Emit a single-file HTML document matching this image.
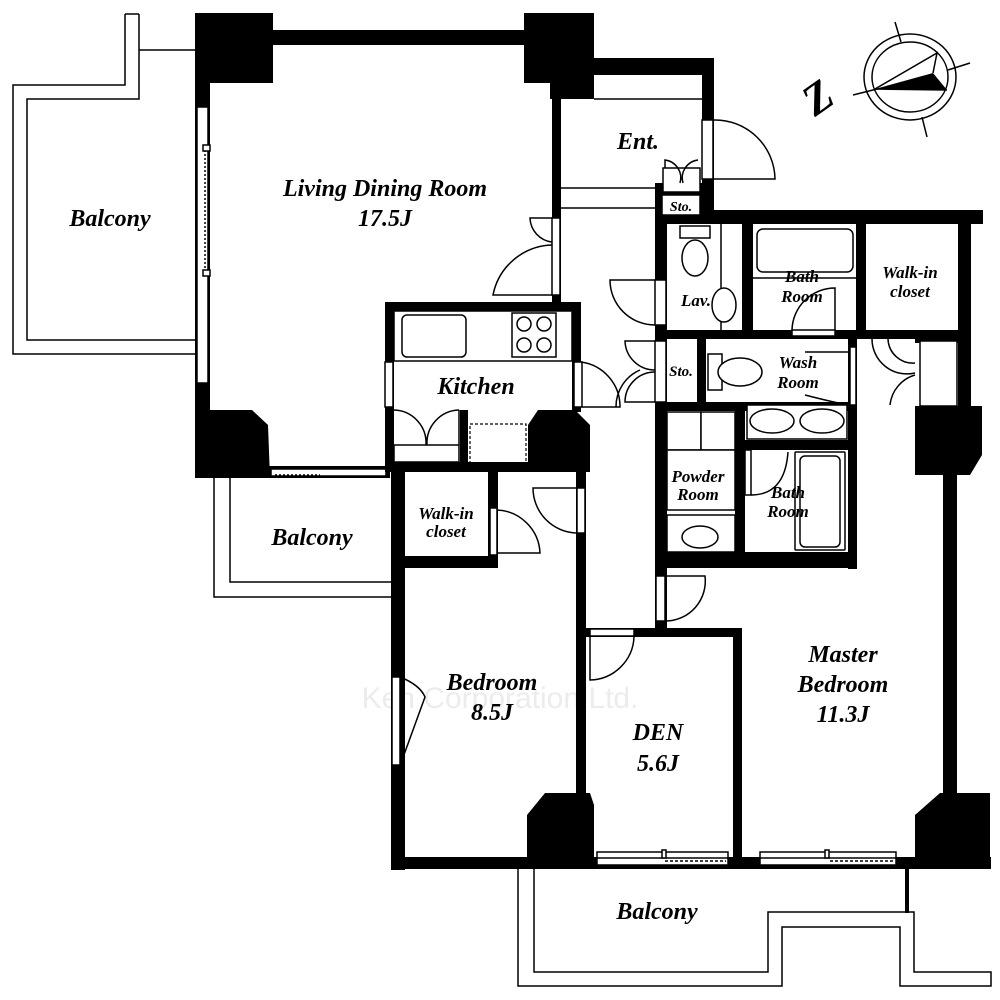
<!DOCTYPE html>
<html><head><meta charset="utf-8"><style>
html,body{margin:0;padding:0;background:#fff}
svg{display:block}
text{font-family:"Liberation Serif",serif;font-weight:bold;font-style:italic;fill:#000;text-anchor:middle}
.t{stroke:#000;stroke-width:1.5;fill:none}
.w{fill:#000}
.o{fill:#fff;stroke:#000;stroke-width:1.5}
</style></head><body>
<svg width="1000" height="1000" viewBox="0 0 1000 1000" xmlns="http://www.w3.org/2000/svg">
<text x="500" y="708" font-size="30" style="font-family:'Liberation Sans',sans-serif;font-weight:normal;font-style:normal;fill:#ececec">Ken Corporation Ltd.</text>
<!-- balconies -->
<path class="t" d="M125,14 L125,85 L13,85 L13,354 L195,354 M139,14 L139,99 L27,99 L27,340 L195,340 M125,14 L139,14 M139,50 L195,50"/>
<path class="t" d="M214,478 L214,597 L391,597 M230,478 L230,582 L391,582"/>
<path class="t" d="M518,869 L518,986 L782,986 L782,927 L900,927 L900,986 L991,986 L991,972 L914,972 L914,912 L768,912 L768,972 L534,972 L534,869"/>
<rect class="w" x="905" y="866" width="4" height="47"/>

<!-- LDR walls -->
<rect class="w" x="195" y="13" width="78" height="70"/>
<rect class="w" x="272" y="30" width="255" height="15"/>
<rect class="w" x="524" y="13" width="70" height="70"/>
<rect class="w" x="550" y="13" width="44" height="86"/>
<rect class="w" x="195" y="80" width="15" height="398"/>
<rect class="o" x="197" y="107" width="11" height="276"/>
<line class="t" x1="205" y1="150" x2="205" y2="272" stroke-dasharray="2,2"/>
<rect class="o" x="203" y="145" width="7" height="6"/><rect class="o" x="203" y="270" width="7" height="6"/>
<path class="w" d="M195,410 L252,410 L268,425 L270,478 L195,478 Z"/>
<rect class="w" x="195" y="466" width="195" height="12"/>
<rect class="o" x="271" y="469" width="115" height="7"/>
<line class="t" x1="275" y1="475" x2="320" y2="475" stroke-dasharray="2,2"/>
<rect class="w" x="552" y="83" width="9" height="222"/>
<rect class="o" x="552" y="218" width="8" height="77"/>
<path class="t" d="M552,295 L493,295 A62,62 0 0 1 552,245 M552,218 L530,218 A25,25 0 0 0 552,242"/>

<!-- Ent -->
<rect class="w" x="594" y="58" width="120" height="17"/>
<rect class="w" x="702" y="58" width="12" height="160"/>
<rect class="o" x="702" y="120" width="11" height="59"/>
<path class="t" d="M714,120 A60,60 0 0 1 775,179 L714,179"/>
<line class="t" x1="594" y1="99" x2="702" y2="99"/>
<line class="t" x1="561" y1="188" x2="655" y2="188"/>
<line class="t" x1="561" y1="208" x2="655" y2="208"/>
<rect class="w" x="655" y="183" width="47" height="35"/>
<rect class="o" x="663" y="168" width="37" height="24"/>
<rect class="o" x="662" y="195" width="38" height="20"/>
<path class="t" d="M665,168 L665,160 A18,18 0 0 1 680,183 M698,160 A18,18 0 0 0 683,183"/>

<!-- right block walls -->
<rect class="w" x="700" y="210" width="283" height="14"/>
<rect class="w" x="655" y="215" width="12" height="415"/>
<rect class="w" x="655" y="215" width="100" height="9"/>
<rect class="w" x="958" y="210" width="13" height="200"/>
<rect class="w" x="742" y="224" width="11" height="110"/>
<rect class="w" x="856" y="224" width="10" height="110"/>
<rect class="w" x="655" y="330" width="316" height="9"/>
<rect class="w" x="697" y="339" width="9" height="70"/>
<rect class="w" x="655" y="402" width="195" height="9"/>
<rect class="w" x="848" y="339" width="9" height="230"/>
<rect class="w" x="735" y="402" width="10" height="160"/>
<rect class="w" x="745" y="440" width="105" height="10"/>
<rect class="w" x="655" y="552" width="202" height="16"/>
<path class="w" d="M915,406 L982,406 L982,455 L970,475 L915,475 Z"/>
<rect class="w" x="943" y="470" width="14" height="330"/>
<rect class="w" x="915" y="339" width="43" height="4"/>
<rect class="o" x="920" y="341" width="37" height="65"/>

<!-- Lav -->
<line class="t" x1="721" y1="224" x2="721" y2="330"/>
<rect class="o" x="680" y="226" width="30" height="12"/>
<ellipse class="o" cx="695" cy="258" rx="13" ry="18"/>
<ellipse class="o" cx="724" cy="305" rx="12" ry="17"/>
<rect class="o" x="655" y="280" width="11" height="45"/>
<path class="t" d="M655,280 L610,280 A45,45 0 0 0 655,325"/>
<!-- Bath upper -->
<rect class="o" x="757" y="229" width="96" height="43" rx="6"/>
<line class="t" x1="753" y1="278" x2="856" y2="278"/>
<path class="t" d="M792,330 A43,43 0 0 1 835,288 L835,330"/>
<rect class="o" x="792" y="330" width="43" height="6"/>
<!-- Sto 2, wash -->
<rect class="o" x="655" y="341" width="11" height="61"/>
<path class="t" d="M655,341 L625,341 A30,30 0 0 0 655,370 M655,402 L625,402 A30,30 0 0 1 655,372"/>
<rect class="o" x="708" y="354" width="14" height="36"/>
<ellipse class="o" cx="740" cy="372" rx="22" ry="14"/>
<rect class="o" x="850" y="347" width="6" height="58"/>
<path class="t" d="M805,352 L850,352 M805,395 Q840,404 850,405"/>
<rect class="o" x="747" y="405" width="100" height="34"/>
<ellipse class="o" cx="772" cy="421" rx="22" ry="12"/><ellipse class="o" cx="822" cy="421" rx="22" ry="12"/>
<!-- powder -->
<rect class="o" x="667" y="412" width="34" height="38"/><rect class="o" x="701" y="412" width="34" height="38"/>
<rect class="o" x="667" y="450" width="68" height="60"/>
<rect class="o" x="667" y="515" width="68" height="37"/>
<ellipse class="o" cx="700" cy="537" rx="18" ry="11"/>
<!-- bath lower -->
<rect class="o" x="795" y="452" width="50" height="98" rx="1"/>
<rect class="o" x="800" y="456" width="40" height="91" rx="5"/>
<rect class="o" x="745" y="450" width="6" height="45"/>
<path class="t" d="M751,495 Q785,495 788,452"/>
<!-- master closet doors -->
<path class="t" d="M872,339 A35,35 0 0 0 915,373 M888,339 A25,25 0 0 0 915,363 M915,375 A35,35 0 0 0 890,405"/>

<!-- Kitchen -->
<rect class="w" x="385" y="302" width="196" height="10"/>
<rect class="w" x="385" y="302" width="9" height="168"/>
<rect class="w" x="572" y="302" width="9" height="110"/>
<rect class="w" x="385" y="462" width="205" height="10"/>
<rect class="o" x="394" y="311" width="178" height="50"/>
<rect class="o" x="402" y="315" width="64" height="42" rx="5"/>
<rect class="o" x="512" y="313" width="44" height="44"/>
<circle class="o" cx="524" cy="324" r="7"/><circle class="o" cx="544" cy="324" r="7"/><circle class="o" cx="524" cy="345" r="7"/><circle class="o" cx="544" cy="345" r="7"/>
<rect class="o" x="385" y="362" width="8" height="45"/>
<rect class="o" x="574" y="362" width="8" height="45"/>
<rect class="o" x="394" y="445" width="65" height="17"/>
<path class="t" d="M394,410 A33,33 0 0 1 426,445 M459,410 A33,33 0 0 0 427,445 M459,410 L459,445"/>
<rect class="w" x="460" y="410" width="8" height="60"/>
<rect x="470" y="424" width="56" height="44" fill="none" stroke="#000" stroke-width="1.2" stroke-dasharray="3,2"/>
<path class="w" d="M538,410 L575,410 L590,425 L590,462 L580,470 L528,470 L528,425 Z"/>
<path class="t" d="M581,362 A45,45 0 0 1 620,407 L582,407 M640,370 A40,40 0 0 0 616,407"/>

<!-- left bedroom & closet -->
<rect class="w" x="391" y="470" width="14" height="400"/>
<rect class="w" x="391" y="556" width="107" height="12"/>
<rect class="w" x="488" y="470" width="10" height="98"/>
<rect class="o" x="490" y="508" width="7" height="47"/>
<path class="t" d="M497,510 A45,45 0 0 1 540,553 L497,553"/>
<rect class="w" x="576" y="470" width="10" height="390"/>
<rect class="o" x="577" y="488" width="8" height="45"/>
<path class="t" d="M576,488 L533,488 A45,45 0 0 0 576,533"/>
<rect class="o" x="392" y="677" width="8" height="88"/>
<path class="t" d="M400,677 Q420,685 425,697 L401,763"/>
<path class="w" d="M545,793 L590,793 L594,805 L594,860 L527,860 L527,815 Z"/>

<!-- DEN -->
<rect class="w" x="585" y="628" width="157" height="9"/>
<rect class="w" x="733" y="628" width="9" height="240"/>
<rect class="o" x="590" y="629" width="44" height="7"/>
<path class="t" d="M590,637 L590,680 A45,45 0 0 0 634,637"/>
<rect class="w" x="655" y="568" width="11" height="65"/>
<rect class="o" x="656" y="576" width="9" height="45"/>
<path class="t" d="M666,576 L705,576 A40,40 0 0 1 666,621"/>

<!-- bottom wall -->
<rect class="w" x="391" y="857" width="600" height="12"/>
<path class="w" d="M940,793 L990,793 L990,869 L915,869 L915,815 Z"/>
<rect class="o" x="597" y="852" width="131" height="13"/>
<line class="t" x1="597" y1="858" x2="728" y2="858"/>
<line x1="665" y1="861" x2="726" y2="861" stroke="#000" stroke-width="1.5" stroke-dasharray="3,2"/>
<rect class="o" x="662" y="850" width="4" height="8"/>
<rect class="o" x="760" y="852" width="136" height="13"/>
<line class="t" x1="760" y1="858" x2="896" y2="858"/>
<line x1="830" y1="861" x2="894" y2="861" stroke="#000" stroke-width="1.5" stroke-dasharray="3,2"/>
<rect class="o" x="825" y="850" width="4" height="8"/>

<!-- compass -->
<ellipse class="t" cx="910" cy="77" rx="46" ry="43" stroke-width="2"/>
<ellipse class="t" cx="910" cy="77" rx="38" ry="35" stroke-width="2"/>
<path class="t" d="M853,95 L877,89 M948,70 L970,63 M895,22 L901,42 M922,117 L927,137"/>
<path class="t" d="M875,89 L937,53 L933,73"/>
<path class="w" d="M875,89 L933,73 L947,90 Z"/>
<line class="t" x1="875" y1="89" x2="947" y2="90"/>
<text x="818" y="112" font-size="44" transform="rotate(-35 818 98)">Z</text>

<!-- labels -->
<text x="110" y="226" font-size="24">Balcony</text>
<text x="385" y="196" font-size="24">Living Dining Room</text>
<text x="385" y="226" font-size="24">17.5J</text>
<text x="638" y="149" font-size="24">Ent.</text>
<text x="681" y="211" font-size="14">Sto.</text>
<text x="696" y="306" font-size="17">Lav.</text>
<text x="802" y="282" font-size="17">Bath</text>
<text x="802" y="302" font-size="17">Room</text>
<text x="910" y="278" font-size="17">Walk-in</text>
<text x="910" y="297" font-size="17">closet</text>
<text x="681" y="376" font-size="15">Sto.</text>
<text x="798" y="368" font-size="17">Wash</text>
<text x="798" y="388" font-size="17">Room</text>
<text x="476" y="394" font-size="24">Kitchen</text>
<text x="698" y="482" font-size="17">Powder</text>
<text x="698" y="500" font-size="17">Room</text>
<text x="788" y="498" font-size="17">Bath</text>
<text x="788" y="517" font-size="17">Room</text>
<text x="312" y="545" font-size="24">Balcony</text>
<text x="446" y="519" font-size="17">Walk-in</text>
<text x="446" y="537" font-size="17">closet</text>
<text x="492" y="690" font-size="24">Bedroom</text>
<text x="492" y="720" font-size="24">8.5J</text>
<text x="658" y="740" font-size="24">DEN</text>
<text x="658" y="771" font-size="24">5.6J</text>
<text x="843" y="662" font-size="24">Master</text>
<text x="843" y="692" font-size="24">Bedroom</text>
<text x="843" y="722" font-size="24">11.3J</text>
<text x="657" y="919" font-size="24">Balcony</text>
</svg>
</body></html>
